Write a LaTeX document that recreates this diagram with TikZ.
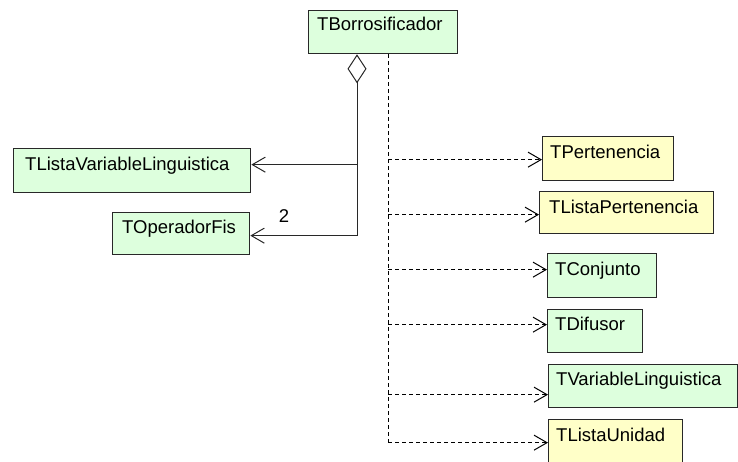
\documentclass[tikz,border=0pt]{standalone}
\usepackage{fontspec}
\setmainfont{Liberation Sans}
\usetikzlibrary{arrows.meta}
\definecolor{clsgreen}{RGB}{221,255,221}
\definecolor{clsyellow}{RGB}{255,255,200}
\definecolor{edge}{RGB}{40,40,40}
\tikzset{
  classbox/.style={draw=edge, line width=1.3pt, inner sep=0pt, anchor=north west},
  greenbox/.style={classbox, fill=clsgreen},
  yellowbox/.style={classbox, fill=clsyellow},
  classname/.style={anchor=base west, inner sep=0pt, font=\fontsize{18.5}{20}\selectfont},
  assoc/.style={draw=edge, line width=1pt, -{Straight Barb[length=13pt,width=15pt,line width=1pt]}},
  depend/.style={draw=black, line width=1pt, dash pattern=on 4pt off 3pt},
  dependarrow/.style={depend, -{Straight Barb[length=13pt,width=15pt,line width=1pt]}},
}
\newcommand{\classnode}[6]{%
  % #1 name, #2 style, #3 x, #4 y, #5 width, #6 height
  \node[#2, minimum width=#5pt, minimum height=#6pt] (#1) at (#3,#4) {};}
\begin{document}
\begin{tikzpicture}[x=1pt,y=-1pt]
  \useasboundingbox (0,0) rectangle (738,461);

  % class boxes
  \classnode{borr}{greenbox}{308}{10}{149}{43}
  \classnode{tlvl}{greenbox}{13}{148}{237}{44}
  \classnode{topf}{greenbox}{112}{212}{137}{42}
  \classnode{tper}{yellowbox}{542}{136}{131}{44}
  \classnode{tlper}{yellowbox}{539}{191}{174}{42}
  \classnode{tconj}{greenbox}{547}{253}{109}{44}
  \classnode{tdif}{greenbox}{547}{309}{95}{43}
  \classnode{tvl}{greenbox}{548}{364}{189}{43}
  \classnode{tlu}{yellowbox}{548}{419}{134}{50}

  % class names
  \node[classname] (borrname) at ([xshift=9pt,yshift=-20pt]borr.north west) {TBorrosificador};
  \node[classname] (tlvlname) at ([xshift=12pt,yshift=-22pt]tlvl.north west) {TListaVariableLinguistica};
  \node[classname] (topfname) at ([xshift=10pt,yshift=-21pt]topf.north west) {TOperadorFis};
  \node[classname] (tpername) at ([xshift=8pt,yshift=-22pt]tper.north west) {TPertenencia};
  \node[classname] (tlpername) at ([xshift=10pt,yshift=-22pt]tlper.north west) {TListaPertenencia};
  \node[classname] (tconjname) at ([xshift=8pt,yshift=-22pt]tconj.north west) {TConjunto};
  \node[classname] (tdifname) at ([xshift=8pt,yshift=-21pt]tdif.north west) {TDifusor};
  \node[classname] (tvlname) at ([xshift=8pt,yshift=-21pt]tvl.north west) {TVariableLinguistica};
  \node[classname] (tluname) at ([xshift=8pt,yshift=-22pt]tlu.north west) {TListaUnidad};

  % aggregation from TBorrosificador
  \coordinate (aggx) at (357,0);
  \coordinate (tlvlend) at ([yshift=6pt]tlvl.east);
  \coordinate (topfend) at ([yshift=-2pt]topf.east);
  \draw[assoc, {Diamond[open,length=29pt,width=19pt,line width=1pt]}-{Straight Barb[length=13pt,width=15pt,line width=1pt]}]
    (borr.south -| aggx) |- (topfend);
  \draw[assoc] (aggx |- tlvlend) -- (tlvlend);
  \node[font=\fontsize{18.5}{20}\selectfont, inner sep=0pt] (mult) at (284,216) {2};

  % dependencies from TBorrosificador
  \coordinate (depx) at (388,0);
  \coordinate (tperend) at ([yshift=-1pt]tper.west);
  \coordinate (tlperend) at ([yshift=-2pt]tlper.west);
  \coordinate (tconjend) at ([yshift=6pt]tconj.west);
  \coordinate (tdifend) at ([yshift=6.5pt]tdif.west);
  \coordinate (tvlend) at ([yshift=-8.5pt]tvl.west);
  \coordinate (tluend) at ([yshift=2pt]tlu.west);
  \draw[depend] (borr.south -| depx) -- (depx |- tluend);
  \foreach \t in {tperend,tlperend,tconjend,tdifend,tvlend,tluend}
    \draw[dependarrow] (depx |- \t) -- (\t);
\end{tikzpicture}
\end{document}
